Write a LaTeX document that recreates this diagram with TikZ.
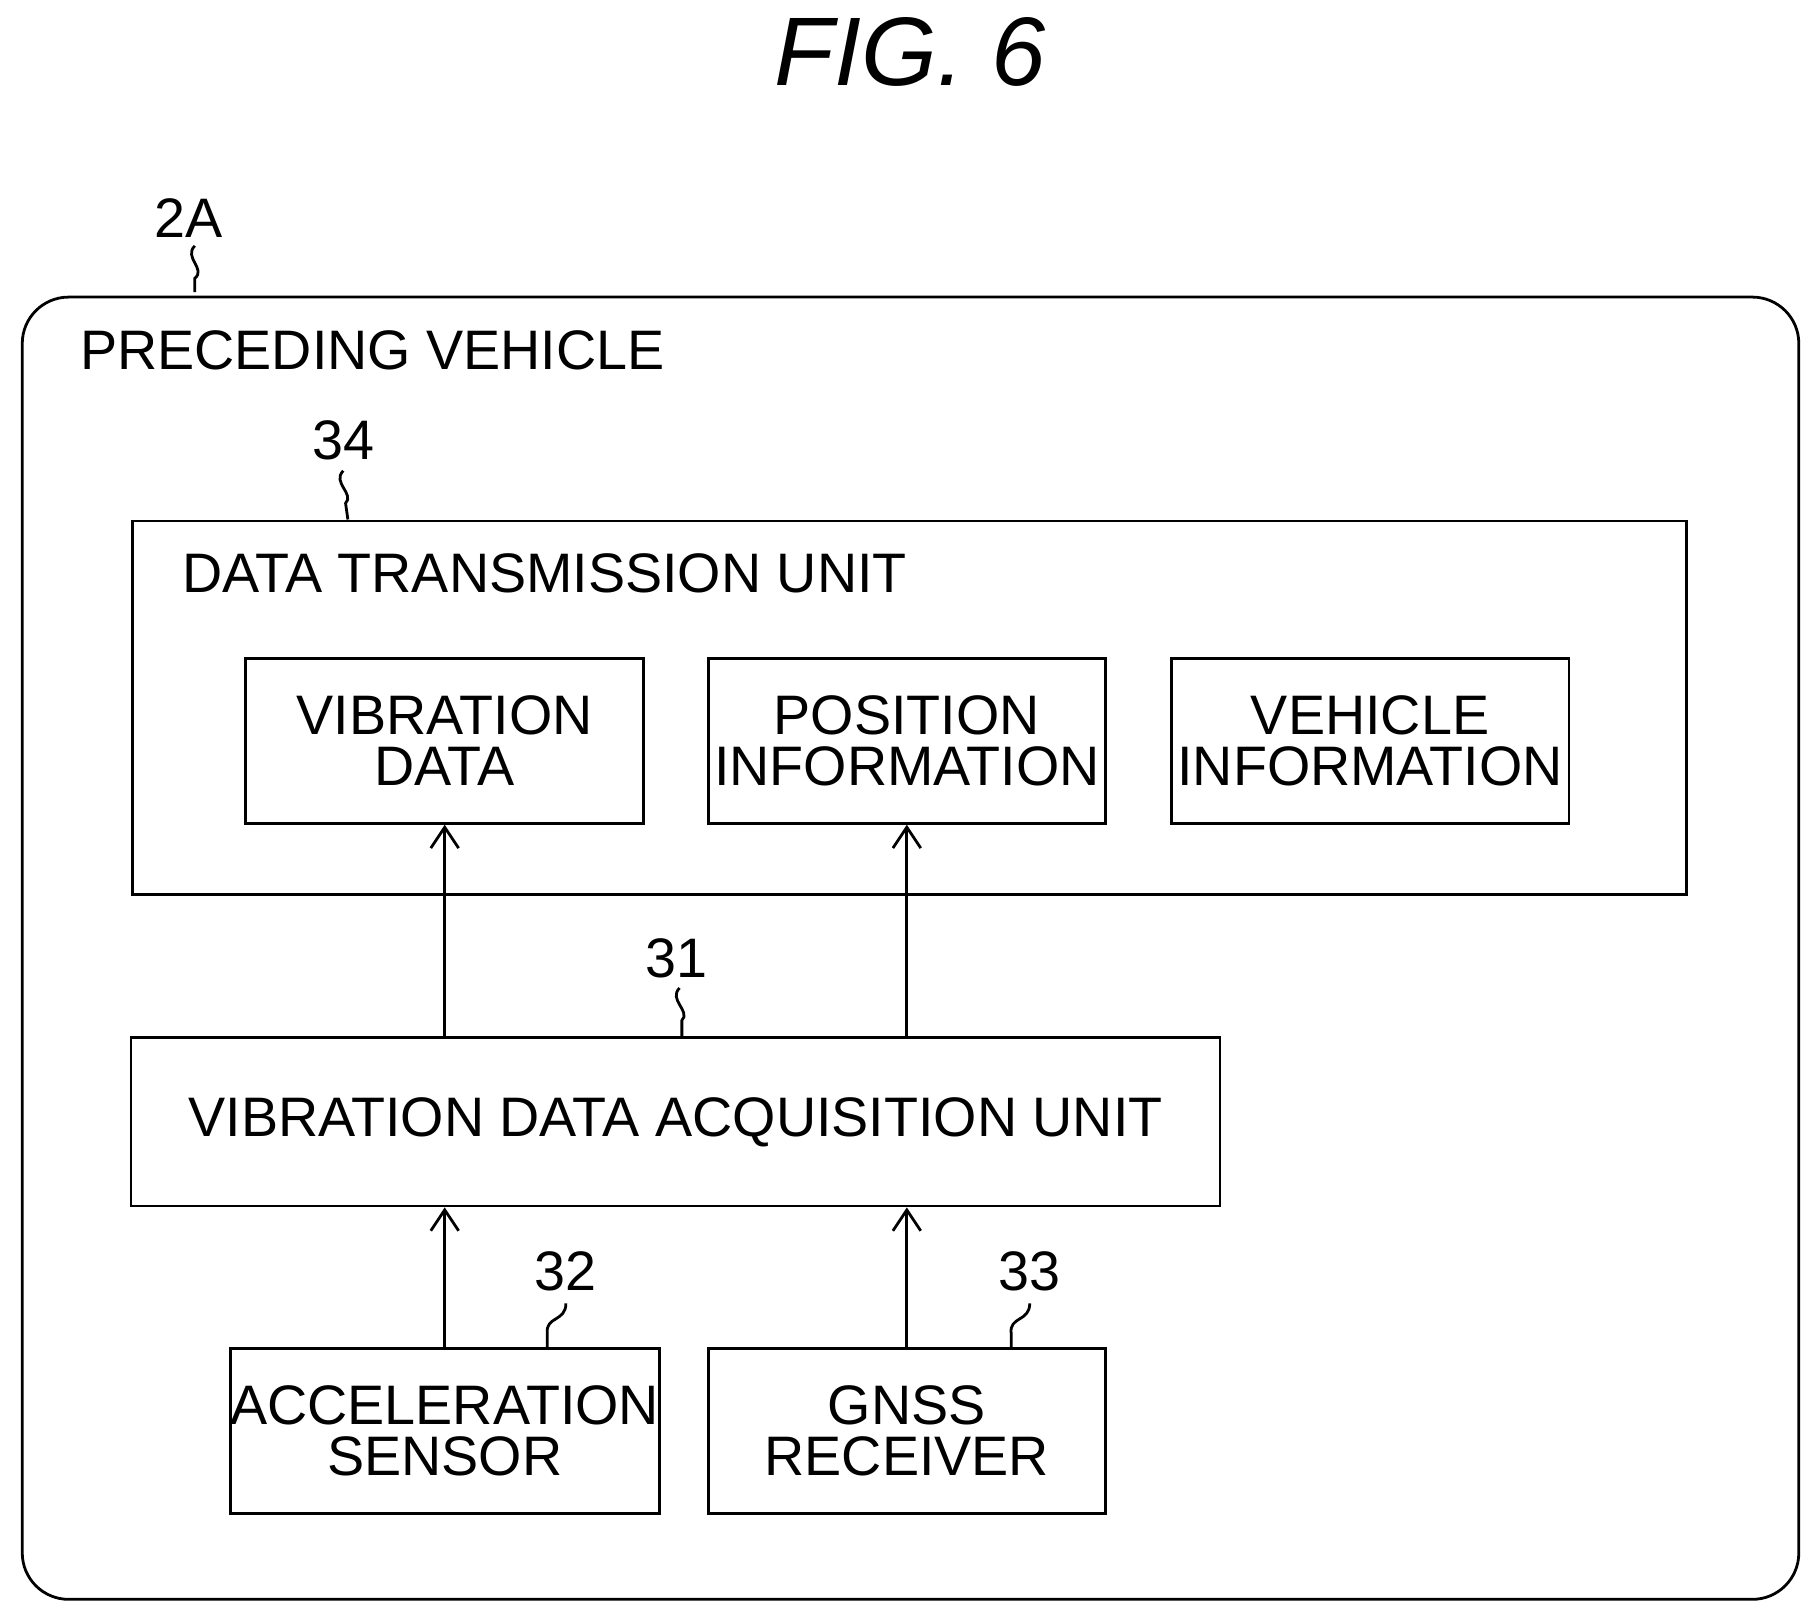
\documentclass[tikz,border=0pt]{standalone}
\usepackage{fontspec}
\setmainfont{Liberation Sans}
\usetikzlibrary{arrows.meta}
\begin{document}
\begin{tikzpicture}[x=0.5pt,y=-0.5pt,
  box/.style={draw,line width=1.2pt},
  lbl/.style={font=\fontsize{24}{26}\selectfont},
  arr/.style={line width=1.2pt,-{Straight Barb[length=9pt,width=12pt]}},
  lead/.style={line width=1.2pt}]
\useasboundingbox (0,0) rectangle (1560,1390);
\node[font=\fontsize{42}{44}\selectfont\itshape] (fig) at (785,45) {FIG. 6};
\node[draw,line width=1.2pt,rounded corners=20pt,minimum width=766pt,minimum height=561.5pt,anchor=north west,inner sep=0pt] (outer) at (18,255) {};
\node[lbl] (l2a) at (163,188) {2A};
\coordinate (o1) at (168,252);
\draw[lead] (168,212) .. controls (158,222) and (178,232) .. (168,240) -- (o1);
\node[lbl,anchor=west] (pv) at (62,302) {PRECEDING VEHICLE};
\node[box,minimum width=670pt,minimum height=161pt,anchor=north west,inner sep=0pt] (dtu) at (113,448) {};
\node[lbl] (l34) at (296,380) {34};
\draw[lead] (296,406) .. controls (286,416) and (306,426) .. (298,434) -- (dtu.north -| 300,0);
\node[lbl,anchor=west] (dtut) at (150,494) {DATA TRANSMISSION UNIT};
\node[box,minimum width=171.5pt,minimum height=71pt,align=center,lbl,inner sep=0pt,text depth=0pt] (vd) at (383.5,639) {VIBRATION\\[-4pt]DATA};
\node[box,minimum width=171pt,minimum height=71pt,align=center,lbl,inner sep=0pt] (pi) at (782,639) {POSITION\\[-4pt]INFORMATION};
\node[box,minimum width=171.5pt,minimum height=71pt,align=center,lbl,inner sep=0pt] (vi) at (1181.5,639) {VEHICLE\\[-4pt]INFORMATION};
\node[box,minimum width=469.5pt,minimum height=72.5pt,lbl,inner sep=0pt] (acq) at (582.5,967.5) {VIBRATION DATA ACQUISITION UNIT};
\node[lbl] (l31) at (583,826) {31};
\draw[lead] (586,852) .. controls (576,862) and (596,872) .. (588,880) -- (588,895);
\node[box,minimum width=171.5pt,minimum height=71pt,align=center,lbl,inner sep=0pt] (acc) at (383.5,1234) {ACCELERATION\\[-4pt]SENSOR};
\node[box,minimum width=171pt,minimum height=71pt,align=center,lbl,inner sep=0pt] (gnss) at (782,1234) {GNSS\\[-4pt]RECEIVER};
\node[lbl] (l32) at (488,1096) {32};
\node[lbl] (l33) at (888,1096) {33};
\draw[lead] (488,1124) .. controls (488,1140) and (470,1135) .. (472,1150) -- (472,1163);
\draw[lead] (888,1124) .. controls (888,1140) and (870,1135) .. (872,1150) -- (872,1163);
\draw[arr] (acq.north -| vd.south) -- (vd.south);
\draw[arr] (acq.north -| pi.south) -- (pi.south);
\draw[arr] (acc.north) -- (acq.south -| acc.north);
\draw[arr] (gnss.north) -- (acq.south -| gnss.north);
\end{tikzpicture}
\end{document}
